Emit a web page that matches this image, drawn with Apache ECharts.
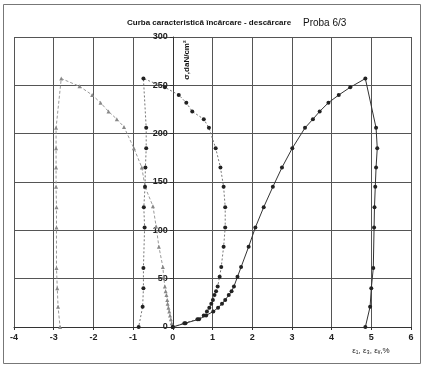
<!DOCTYPE html>
<html><head><meta charset="utf-8">
<script src="https://cdn.jsdelivr.net/npm/echarts@6/dist/echarts.min.js"></script>
<style>html,body{margin:0;padding:0;background:#fff}#c{width:431px;height:372px}</style>
</head><body><div id="c"></div>
<script>
// ε1 (axial strain) loading + unloading
const e1X = [0, 0.32, 0.66, 0.84, 1.02, 1.14, 1.24, 1.32, 1.41, 1.48, 1.54, 1.63, 1.72, 1.91, 2.08, 2.29, 2.52, 2.75, 3.01, 3.33, 3.53, 3.70, 3.92, 4.18, 4.47, 4.85,
             5.12, 5.15, 5.12, 5.10, 5.08, 5.07, 5.05, 5.00, 4.97, 4.85];
const e1Y = [0, 4, 8, 12, 16, 20, 24, 28, 33, 37, 42, 52, 62, 83, 103, 124, 145, 165, 185, 206, 215, 223, 232, 240, 248, 257,
             206, 185, 165, 145, 124, 103, 61, 40, 21, 0];
// ε3 (lateral strain) loading + unloading
const e3X = [0, -0.03, -0.05, -0.07, -0.09, -0.11, -0.13, -0.14, -0.16, -0.18, -0.20, -0.23, -0.25, -0.35, -0.42, -0.50, -0.70, -0.78, -0.98, -1.23, -1.41, -1.62, -1.82, -2.03, -2.35, -2.81,
             -2.94, -2.94, -2.94, -2.94, -2.93, -2.93, -2.93, -2.91, -2.89, -2.84];
const e3Y = [0, 4, 8, 12, 16, 20, 24, 28, 33, 37, 42, 52, 62, 83, 104, 125, 145, 165, 185, 207, 215, 223, 232, 240, 249, 257,
             206, 185, 165, 145, 124, 103, 61, 40, 21, 0];
// εv (volumetric strain) loading + unloading
const evX = [0, 0.29, 0.62, 0.78, 0.86, 0.92, 0.97, 1.01, 1.05, 1.09, 1.13, 1.18, 1.22, 1.28, 1.32, 1.32, 1.28, 1.20, 1.08, 0.91, 0.78, 0.49, 0.34, 0.15, -0.20, -0.74,
             -0.67, -0.67, -0.69, -0.70, -0.73, -0.71, -0.74, -0.74, -0.76, -0.86];
const evY = [0, 4, 8, 12, 16, 20, 24, 28, 33, 37, 42, 52, 62, 83, 103, 124, 145, 165, 185, 206, 215, 223, 232, 240, 248, 257,
             206, 185, 165, 145, 124, 103, 61, 40, 21, 0];
const xTicks = [-4, -3, -2, -1, 0, 1, 2, 3, 4, 5, 6];
const yTicks = [0, 50, 100, 150, 200, 250, 300];

const zip = (a, b) => a.map((v, i) => [v, b[i]]);
const chart = echarts.init(document.getElementById('c'), null, {renderer: 'canvas'});
const FONT = 'Liberation Sans, Arial, sans-serif';
const GL = 14, GR = 20, W = 431;
const xMin = xTicks[0], xMax = xTicks[xTicks.length - 1];
const yOffset = -((W - GL - GR) * (0 - xMin) / (xMax - xMin));
chart.setOption({
  animation: false,
  backgroundColor: '#fff',
  grid: {left: GL, right: GR, top: 37, bottom: 45, containLabel: false},
  xAxis: {
    type: 'value', min: xMin, max: xMax, interval: 1,
    axisLine: {show: true, onZero: true, lineStyle: {color: '#333', width: 1}},
    axisTick: {show: true, length: 3, inside: false, lineStyle: {color: '#333'}},
    axisLabel: {color: '#222', fontSize: 9, fontWeight: 'bold', fontFamily: FONT, margin: 6},
    splitLine: {show: true, lineStyle: {color: '#555', width: 1}}
  },
  yAxis: {
    type: 'value', min: yTicks[0], max: yTicks[yTicks.length - 1], interval: 50,
    position: 'left', offset: yOffset,
    axisLine: {show: true, onZero: false, lineStyle: {color: '#333', width: 1}},
    axisTick: {show: true, length: 3, lineStyle: {color: '#333'}},
    axisLabel: {color: '#222', fontSize: 9, fontWeight: 'bold', fontFamily: FONT, margin: 5},
    splitLine: {show: true, lineStyle: {color: '#555', width: 1}}
  },
  graphic: [
    {type: 'rect', shape: {x: 3.5, y: 4.5, width: 417, height: 359}, style: {fill: 'none', stroke: '#777', lineWidth: 1}, z: -1},
    {type: 'text', x: 127, y: 23, style: {text: 'Curba caracteristică încărcare - descărcare', font: 'bold 8px ' + FONT, fill: '#111', textVerticalAlign: 'middle'}},
    {type: 'text', x: 303, y: 23, style: {text: 'Proba 6/3', font: '10px ' + FONT, fill: '#111', textVerticalAlign: 'middle'}},
    {type: 'text', x: 187, y: 60, rotation: Math.PI / 2, style: {text: 'σ,daN/cm²', font: 'bold 8px ' + FONT, fill: '#111', textAlign: 'center', textVerticalAlign: 'middle'}},
    {type: 'text', x: 371, y: 351, style: {text: 'ε₁, ε₃, εᵥ,%', font: '8px ' + FONT, fill: '#222', textAlign: 'center', textVerticalAlign: 'middle'}}
  ],
  series: [
    {type: 'line', name: 'ε3', data: zip(e3X, e3Y), symbol: 'triangle', symbolSize: 4,
     itemStyle: {color: '#888'}, lineStyle: {color: '#999', width: 1, type: [3, 2]}, z: 3},
    {type: 'line', name: 'εv', data: zip(evX, evY), symbol: 'circle', symbolSize: 4,
     itemStyle: {color: '#222'}, lineStyle: {color: '#777', width: 1, type: [2, 2]}, z: 4},
    {type: 'line', name: 'ε1', data: zip(e1X, e1Y), symbol: 'circle', symbolSize: 4,
     itemStyle: {color: '#222'}, lineStyle: {color: '#333', width: 1}, z: 5}
  ]
});
</script></body></html>
